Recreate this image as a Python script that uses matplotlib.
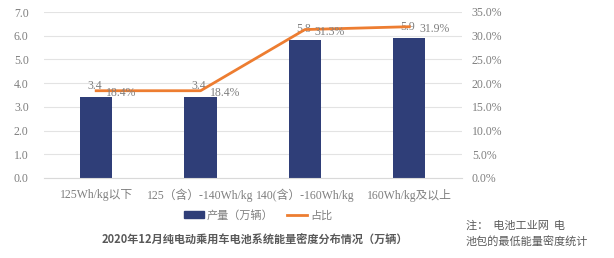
import matplotlib
matplotlib.use("Agg")
import matplotlib.pyplot as plt
import numpy as np

categories = ["125Wh/kg以下", "125（含）-140Wh/kg", "140(含）-160Wh/kg", "160Wh/kg及以上"]
output = [3.4, 3.4, 5.8, 5.9]
share = [18.4, 18.4, 31.3, 31.9]
left_ticks = [0, 1, 2, 3, 4, 5, 6, 7]
right_ticks = [0, 5, 10, 15, 20, 25, 30, 35]

CJK = ["Noto Sans CJK SC", "DejaVu Sans"]
SER = ["Liberation Serif", "Noto Sans CJK SC"]
gray = "#7f7f7f"
navy = "#2f3e78"
orange = "#ed7d31"

fig = plt.figure(figsize=(6.14, 2.58), dpi=100)
ax = fig.add_axes([44/614, 1-178/258, (461.5-44)/614, 166/258])
x = np.arange(len(categories))
ax.bar(x, output, width=0.31, color=navy, zorder=2)
ax.set_xlim(-0.5, len(categories)-0.5)
ax.set_ylim(0, 7)
ax.set_yticks(left_ticks)
ax.set_yticklabels([f"{v:.1f}" for v in left_ticks], family=SER, fontsize=8.5, color=gray)
ax.grid(axis="y", color="#e3e3e3", lw=0.8, zorder=0)
for s in ["top", "right", "left"]:
    ax.spines[s].set_visible(False)
ax.spines["bottom"].set_color("#d9d9d9")
ax.tick_params(length=0, pad=11)
ax.tick_params(axis="x", pad=8)
ax.set_xticks(x)
ax.set_xticklabels(categories, family=SER, fontsize=8.5, color=gray)

ax2 = ax.twinx()
ax2.set_ylim(0, 35)
ax2.set_yticks(right_ticks)
ax2.set_yticklabels([f"{v:.1f}%" for v in right_ticks], family=SER, fontsize=8.5, color=gray)
ax2.tick_params(length=0, pad=7.5)
for s in ["top", "right", "left", "bottom"]:
    ax2.spines[s].set_visible(False)
ax2.plot(x, share, color=orange, lw=2, zorder=3)

for i in range(len(x)):
    ax.annotate(f"{output[i]:.1f}", (x[i], output[i]), xytext=(-1, 4),
                textcoords="offset points", ha="center", va="bottom",
                family=SER, fontsize=8.5, color=gray, zorder=5)
    ax2.annotate(f"{share[i]:.1f}%", (x[i], share[i]), xytext=(7, -1.5),
                 textcoords="offset points", ha="left", va="center",
                 family=SER, fontsize=8.5, color=gray, zorder=5)

# legend
from matplotlib.patches import Rectangle
from matplotlib.lines import Line2D
h1 = Rectangle((0, 0), 1, 1, color=navy)
h2 = Line2D([0], [0], color=orange, lw=2)
fig.legend([h1, h2], ["产量（万辆）", "占比"], loc="center", bbox_to_anchor=(258/614, 1-215/258),
           ncol=2, frameon=False, prop={"family": CJK, "size": 8}, labelcolor=gray,
           handlelength=1.8, handleheight=0.6, columnspacing=1.2, handletextpad=0.3)

fig.text(254.5/614, 1-240/258, "2020年12月纯电动乘用车电池系统能量密度分布情况（万辆）",
         ha="center", va="center", family=CJK, fontsize=8, color="#595959", fontweight="bold")
fig.text(466/614, 1-226/258, "注：  电池工业网  电", ha="left", va="center",
         family=CJK, fontsize=8, color="#595959")
fig.text(466/614, 1-242/258, "池包的最低能量密度统计", ha="left", va="center",
         family=CJK, fontsize=8, color="#595959")

fig.savefig("out.png", dpi=100)
